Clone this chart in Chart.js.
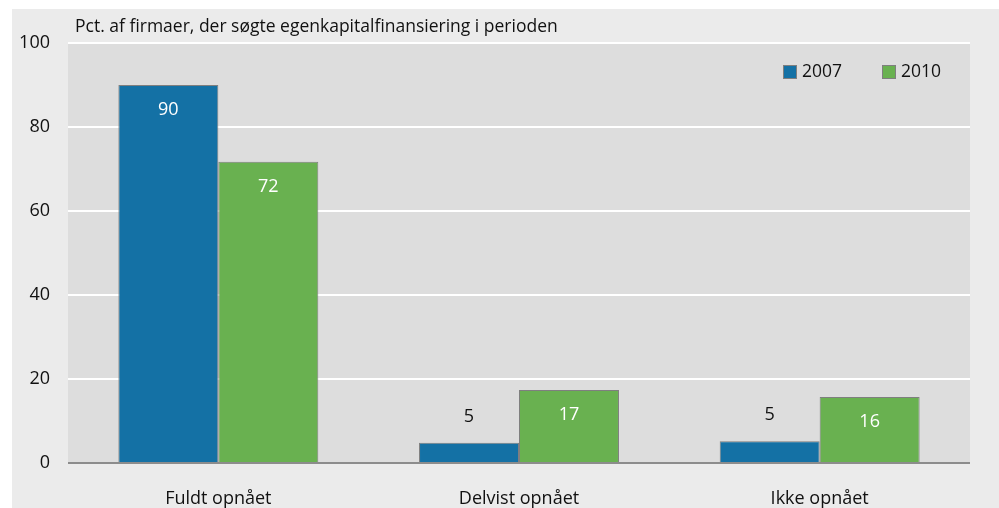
<!DOCTYPE html>
<html>
<head>
<meta charset="utf-8">
<script src="https://cdn.jsdelivr.net/npm/chart.js@4.4.1/dist/chart.umd.min.js"></script>
<style>
  html, body { margin: 0; padding: 0; background: #fff; }
  #wrap { width: 999px; height: 508px; }
</style>
</head>
<body>
<div id="wrap"><canvas id="chart" width="999" height="508"></canvas></div>
<script>
// Data
const categories = ['Fuldt opnået', 'Delvist opnået', 'Ikke opnået'];
const values2007 = [90, 4.8, 5.2];
const values2010 = [71.7, 17.4, 15.7];
const labels2007 = ['90', '5', '5'];
const labels2010 = ['72', '17', '16'];
const yTicks = [0, 20, 40, 60, 80, 100];
const titleText = 'Pct. af firmaer, der søgte egenkapitalfinansiering i perioden';

const FONT = '"Open Sans", "Noto Sans", sans-serif';
const TEXT = '#111111';

// Baggrund + plotområde
const backgroundPlugin = {
    id: 'bg',
    beforeDraw(chart) {
        const ctx = chart.ctx;
        const a = chart.chartArea;
        ctx.save();
        ctx.fillStyle = '#ffffff';
        ctx.fillRect(0, 0, chart.width, chart.height);
        ctx.fillStyle = '#ebebeb';
        ctx.fillRect(12, 9, chart.width - 12, chart.height - 9);
        ctx.fillStyle = '#dddddd';
        ctx.fillRect(a.left, a.top, a.right - a.left, a.bottom - a.top);
        ctx.restore();
    }
};

// Titel, legend og værdier på søjlerne
const overlayPlugin = {
    id: 'overlay',
    afterDatasetsDraw(chart) {
        const ctx = chart.ctx;
        ctx.save();
        ctx.font = '17.5px ' + FONT;
        ctx.fillStyle = TEXT;
        ctx.textAlign = 'left';
        ctx.textBaseline = 'middle';
        ctx.fillText(titleText, 75, 27);

        // legend
        const legendX = [783, 882];
        chart.data.datasets.forEach((ds, i) => {
            ctx.fillStyle = ds.backgroundColor;
            ctx.fillRect(legendX[i], 65, 14, 14);
            ctx.strokeStyle = '#7f7f7f';
            ctx.lineWidth = 1;
            ctx.strokeRect(legendX[i] + 0.5, 65.5, 13, 13);
            ctx.fillStyle = TEXT;
            ctx.font = '17.5px ' + FONT;
            ctx.fillText(ds.label, legendX[i] + 19, 72);
        });

        // værdier
        ctx.font = '18px ' + FONT;
        ctx.textAlign = 'center';
        const texts = [labels2007, labels2010];
        chart.data.datasets.forEach((ds, i) => {
            chart.getDatasetMeta(i).data.forEach((bar, j) => {
                const h = bar.base - bar.y;
                if (h > 40) {
                    ctx.fillStyle = '#ffffff';
                    ctx.fillText(texts[i][j], bar.x, bar.y + 25);
                } else {
                    ctx.fillStyle = TEXT;
                    ctx.fillText(texts[i][j], bar.x, bar.y - 26);
                }
            });
        });
        ctx.restore();
    }
};

const ctx = document.getElementById('chart').getContext('2d');
const chart = new Chart(ctx, {
    type: 'bar',
    data: {
        labels: categories,
        datasets: [{
            label: '2007',
            data: values2007,
            backgroundColor: '#1471a5',
            borderColor: '#7f7f7f',
            borderWidth: 1,
            categoryPercentage: 0.665,
            barPercentage: 1
        }, {
            label: '2010',
            data: values2010,
            backgroundColor: '#69b150',
            borderColor: '#7f7f7f',
            borderWidth: 1,
            categoryPercentage: 0.665,
            barPercentage: 1
        }]
    },
    options: {
        responsive: false,
        animation: false,
        layout: {
            padding: { top: 43, left: 12, right: 29, bottom: 0 }
        },
        plugins: {
            legend: { display: false },
            tooltip: { enabled: false }
        },
        scales: {
            x: {
                grid: { display: false },
                border: { display: false },
                ticks: {
                    color: TEXT,
                    font: { family: FONT, size: 18 },
                    padding: 17
                },
                afterFit(scale) { scale.height = 45; }
            },
            y: {
                min: 0,
                max: 100,
                border: { display: false },
                grid: {
                    drawTicks: false,
                    lineWidth: 2,
                    color: c => c.tick.value === 0 ? '#8c8c8c' : '#ffffff'
                },
                afterBuildTicks(scale) {
                    scale.ticks = yTicks.map(v => ({ value: v }));
                },
                ticks: {
                    color: TEXT,
                    font: { family: FONT, size: 18 },
                    padding: 18
                },
                afterFit(scale) { scale.width = 56; }
            }
        }
    },
    plugins: [backgroundPlugin, overlayPlugin]
});
</script>
</body>
</html>
